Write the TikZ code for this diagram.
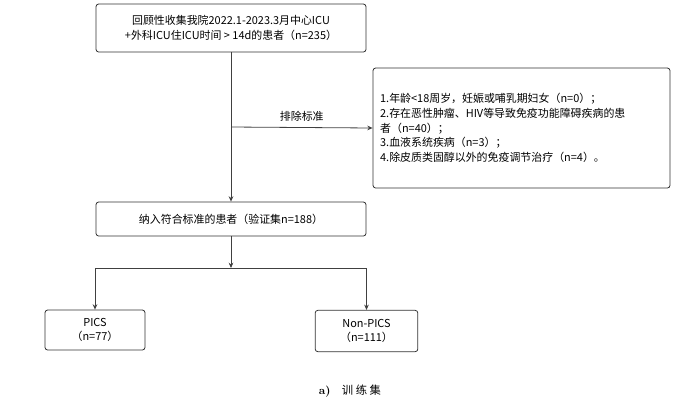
\documentclass[tikz,border=0pt]{standalone}
\usepackage{fontspec}
\newfontfamily\cjk{Noto Sans CJK SC}
\usetikzlibrary{arrows.meta}
\begin{document}
\begin{tikzpicture}[x=0.75pt,y=-0.75pt,
  box/.style={draw=black!80,rounded corners=2pt,line width=0.6pt,font=\cjk\fontsize{8.2}{11}\selectfont,align=center,inner sep=0pt},
  ln/.style={draw=black!75,line width=0.6pt},
  arr/.style={ln,-{Stealth[length=4pt,width=3.5pt]}}]
\useasboundingbox (0,0) rectangle (700,412);
\node[box,minimum width=202.5pt,minimum height=36pt] (top) at (231,28) {回顾性收集我院2022.1-2023.3月中心ICU\\+外科ICU住ICU时间 > 14d的患者（n=235）};
\node[box,minimum width=222.75pt,minimum height=90pt,align=left,text width=212pt] (ex) at (521.5,128) {1.年龄<18周岁，妊娠或哺乳期妇女（n=0）；\\2.存在恶性肿瘤、HIV等导致免疫功能障碍疾病的患\\者（n=40）；\\3.血液系统疾病（n=3）；\\4.除皮质类固醇以外的免疫调节治疗（n=4）。};
\node[box,minimum width=202.5pt,minimum height=25.5pt] (mid) at (231,219) {纳入符合标准的患者（验证集n=188）};
\node[box,minimum width=75pt,minimum height=30pt] (pics) at (95,330) {PICS\\（n=77）};
\node[box,minimum width=77pt,minimum height=31pt] (non) at (366.5,331) {Non-PICS\\（n=111）};
\coordinate (br) at (231,127);
\coordinate (sp) at (231,268);
\coordinate (sl) at (95,268);
\coordinate (sr) at (366.5,268);
\draw[arr] (top.south) -- (mid.north);
\draw[arr] (br) -- (ex.west) node[midway,above,font=\cjk\fontsize{8.2}{10}\selectfont,yshift=1pt] (lab) {排除标准};
\draw[arr] (mid.south) -- (sp);
\draw[ln] (sl) -- (sr);
\draw[arr] (sl) -- (pics.north);
\draw[arr] (sr) -- (non.north);
\node[font=\fontsize{8.5}{10}\selectfont] (cap) at (350,391) {\textbf{a)}\quad{\cjk 训 练 集}};
\end{tikzpicture}
\end{document}
